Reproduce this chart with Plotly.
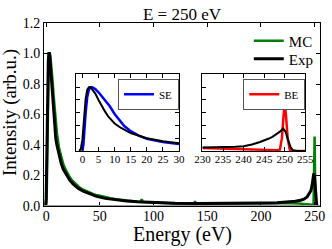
import plotly.graph_objects as go

# ---------------- data ----------------
# Main panel: Experiment (black)
exp_E = [-1, -0.5, 0, 0.5, 1, 1.5, 2, 2.5, 3, 3.5, 4, 5, 6, 7, 8, 9, 10, 12, 14, 16, 19, 22, 25,
         30, 35, 40, 47, 55, 65, 75, 85, 100, 120, 140, 160, 180, 200, 215, 225, 232, 237, 240,
         243, 245, 246.5, 247.5, 248.5, 249.2, 249.8, 250.5, 251.2, 252, 253]
exp_I = [0, 0, 0.05, 0.3, 0.6, 0.82, 0.95, 1.0, 1.0, 0.97, 0.92, 0.8, 0.68, 0.58, 0.5, 0.44, 0.4,
         0.33, 0.28, 0.24, 0.2, 0.17, 0.145, 0.115, 0.095, 0.08, 0.063, 0.05, 0.04, 0.033, 0.028,
         0.022, 0.018, 0.016, 0.016, 0.017, 0.019, 0.022, 0.026, 0.031, 0.038, 0.045, 0.06, 0.08,
         0.1, 0.13, 0.18, 0.214, 0.2, 0.13, 0.04, 0.0, 0.0]

# Main panel: Monte Carlo (green)
mc_E = [0, 0.5, 1, 1.5, 2, 2.5, 3, 3.5, 4, 5, 6, 7, 8, 9, 10, 12, 14, 16, 18, 20, 22, 24, 26, 28,
        30, 33, 36, 40, 44, 48, 52, 56, 60, 65, 70, 75, 80, 85, 88, 89, 90, 95, 100, 105, 110, 115,
        120, 125, 130, 135, 138, 138.6, 139.2, 145, 150, 155, 160, 165, 170, 175, 180, 185, 190,
        195, 200, 205, 210, 215, 220, 225, 230, 235, 240, 243, 246, 248, 249, 249.6, 250, 250.4,
        251, 252, 254]
mc_I = [0, 0.05, 0.3, 0.65, 0.88, 0.97, 1.0, 1.0, 0.98, 0.92, 0.82, 0.72, 0.63, 0.55, 0.48, 0.38,
        0.32, 0.274, 0.24, 0.213, 0.188, 0.17, 0.155, 0.14, 0.128, 0.113, 0.102, 0.089, 0.078,
        0.07, 0.062, 0.056, 0.051, 0.045, 0.04, 0.036, 0.032, 0.029, 0.027, 0.045, 0.026, 0.024,
        0.022, 0.02, 0.019, 0.018, 0.017, 0.017, 0.016, 0.016, 0.015, 0.032, 0.015, 0.015, 0.015,
        0.014, 0.015, 0.014, 0.015, 0.015, 0.016, 0.015, 0.016, 0.016, 0.017, 0.017, 0.018, 0.018,
        0.019, 0.019, 0.018, 0.016, 0.013, 0.011, 0.009, 0.008, 0.012, 0.2, 0.455, 0.2, 0.0, 0.0,
        0.0]

# Inset 1: secondary electrons (SE)
se_exp_E = [-1, -0.5, 0, 0.5, 1, 1.5, 2, 2.5, 3, 4, 5, 6, 7, 8, 9, 10, 12, 15, 20, 25, 30]
se_exp_I = [0, 0.03, 0.18, 0.55, 0.82, 0.96, 1.0, 1.0, 0.97, 0.9, 0.8, 0.7, 0.62, 0.54, 0.48,
            0.43, 0.36, 0.28, 0.2, 0.15, 0.12]
se_mc_E = [0, 0.3, 1, 1.5, 2, 2.5, 3, 4, 5, 6, 7, 8.5, 10, 11.75, 13, 15, 17.5, 20, 25, 30]
se_mc_I = [0, 0.1, 0.6, 0.85, 0.96, 1.0, 1.0, 0.97, 0.92, 0.86, 0.8, 0.7, 0.58, 0.46, 0.39, 0.31,
           0.24, 0.19, 0.14, 0.11]

# Inset 2: backscattered electrons (BE)
be_exp_E = [230, 232, 234, 236, 238, 240, 242, 244, 245, 246, 247, 248, 249, 249.6, 250.2, 250.8,
            251.4, 252, 253, 255]
be_exp_I = [0.055, 0.055, 0.058, 0.06, 0.065, 0.075, 0.1, 0.14, 0.16, 0.19, 0.22, 0.26, 0.31, 0.35,
            0.3, 0.17, 0.06, 0.01, 0.0, 0.0]
be_mc_E = [230, 232, 234, 236, 238, 240, 242, 244, 246, 248, 248.8, 249.3, 249.7, 250, 250.3,
           250.7, 251.2, 252, 255]
be_mc_I = [0.045, 0.04, 0.038, 0.035, 0.03, 0.028, 0.025, 0.02, 0.015, 0.012, 0.02, 0.2, 0.55,
           0.75, 0.55, 0.2, 0.02, 0.0, 0.0]

main_xticks = [0, 50, 100, 150, 200, 250]
main_yticks = [0.0, 0.2, 0.4, 0.6, 0.8, 1.0, 1.2]
se_xticks = [0, 5, 10, 15, 20, 25, 30]
be_xticks = [230, 235, 240, 245, 250, 255]

title_text = "E = 250 eV"
xlabel = "Energy (eV)"
ylabel = "Intensity (arb.u.)"

# ---------------- figure ----------------
FONT = "Liberation Serif"
GREEN = "#008000"

fig = go.Figure()

fig.add_trace(go.Scatter(x=mc_E, y=mc_I, mode="lines", name="MC",
                         line=dict(color=GREEN, width=2.5), legend="legend"))
fig.add_trace(go.Scatter(x=exp_E, y=exp_I, mode="lines", name="Exp",
                         line=dict(color="black", width=3), legend="legend4"))

fig.add_trace(go.Scatter(x=se_mc_E, y=se_mc_I, mode="lines", name="SE",
                         line=dict(color="#0000ff", width=2.5),
                         xaxis="x2", yaxis="y2", legend="legend2"))
fig.add_trace(go.Scatter(x=se_exp_E, y=se_exp_I, mode="lines", name="Exp",
                         line=dict(color="black", width=2), showlegend=False,
                         xaxis="x2", yaxis="y2"))

fig.add_trace(go.Scatter(x=be_mc_E, y=be_mc_I, mode="lines", name="BE",
                         line=dict(color="#ff0000", width=2.5),
                         xaxis="x3", yaxis="y3", legend="legend3"))
fig.add_trace(go.Scatter(x=be_exp_E, y=be_exp_I, mode="lines", name="Exp",
                         line=dict(color="black", width=2), showlegend=False,
                         xaxis="x3", yaxis="y3"))

axis_common = dict(showline=True, linecolor="black", linewidth=1, mirror="ticks",
                   ticks="inside", ticklen=4, tickcolor="black", showgrid=False,
                   zeroline=False, automargin=False)

main_leg = dict(xanchor="left", yanchor="middle", bgcolor="rgba(0,0,0,0)",
                borderwidth=0, font=dict(size=15), itemwidth=30)
inset_leg = dict(xanchor="left", yanchor="top", bgcolor="white", bordercolor="#555555",
                 borderwidth=1, font=dict(size=11), itemwidth=30)

fig.update_layout(
    width=332, height=249,
    margin=dict(l=44, r=12, t=23, b=43, autoexpand=False),
    paper_bgcolor="white", plot_bgcolor="white",
    font=dict(family=FONT, color="black", size=14),
    title=dict(text=title_text, x=0.5, xref="paper", xanchor="center", automargin=False,
               y=1 - 14 / 249, yanchor="middle", font=dict(size=17, family=FONT)),
    xaxis=dict(domain=[0, 1], range=[-2, 255], tickvals=main_xticks,
               tickfont=dict(size=14), ticklabelstandoff=-3, anchor="y", **axis_common),
    yaxis=dict(domain=[0, 1], range=[0, 1.2], tickvals=main_yticks, tickformat=".1f",
               tickfont=dict(size=14), anchor="x", **axis_common),
    xaxis2=dict(domain=[0.116, 0.489], range=[-2, 30], tickvals=se_xticks,
                tickfont=dict(size=11), ticklabelstandoff=-2, anchor="y2", **axis_common),
    yaxis2=dict(domain=[0.301, 0.719], range=[0, 1.2], showticklabels=False,
                dtick=0.2, anchor="x2", **axis_common),
    xaxis3=dict(domain=[0.574, 0.947], range=[230, 255], tickvals=be_xticks,
                tickfont=dict(size=11), ticklabelstandoff=-2, anchor="y3", **axis_common),
    yaxis3=dict(domain=[0.301, 0.719], range=[0, 1.2], showticklabels=False,
                dtick=0.2, anchor="x3", **axis_common),
    legend=dict(x=0.742, y=0.902, **main_leg),
    legend4=dict(x=0.742, y=0.803, **main_leg),
    legend2=dict(x=0.268, y=0.695, **inset_leg),
    legend3=dict(x=0.722, y=0.695, **inset_leg),
    showlegend=True,
    annotations=[
        dict(text=xlabel, xref="paper", yref="paper", x=0.5, y=-0.158,
             xanchor="center", yanchor="middle", showarrow=False, font=dict(size=20)),
        dict(text=ylabel, xref="paper", yref="paper", x=-0.123, y=0.508, textangle=-90,
             xanchor="center", yanchor="middle", showarrow=False, font=dict(size=19)),
    ],
)

# grey baseline at zero in the main panel
fig.add_shape(type="line", xref="paper", yref="y", x0=0, x1=1, y0=0, y1=0,
              line=dict(color="#999999", width=2))

fig.write_html("out.html", config={"displayModeBar": False},
               post_script="document.body.style.margin='0';document.body.style.overflow='hidden';")
